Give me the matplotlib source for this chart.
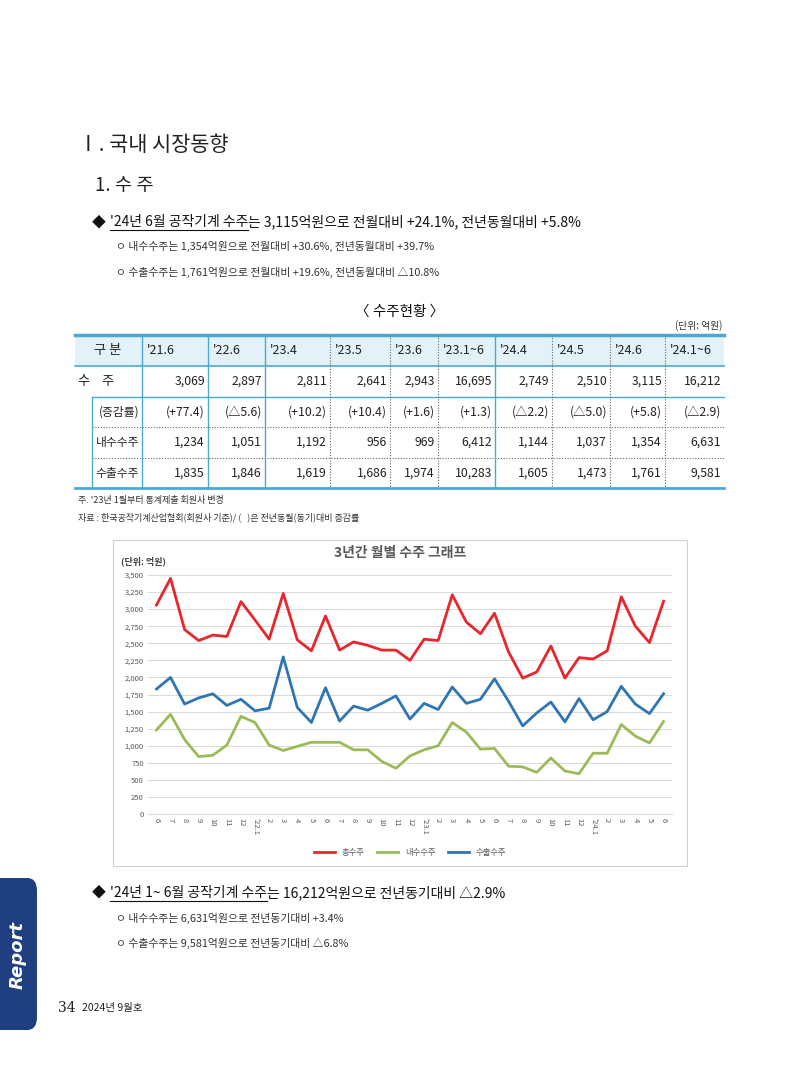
import matplotlib
matplotlib.use("Agg")
import matplotlib.pyplot as plt
from matplotlib import font_manager
from matplotlib.patches import Rectangle, FancyBboxPatch
from matplotlib.lines import Line2D

names = sorted({f.name for f in font_manager.fontManager.ttflist if "CJK" in f.name})
plt.rcParams["font.family"] = names + ["DejaVu Sans"] if names else ["DejaVu Sans"]

W, H = 800, 1066

# table data
col_heads = ["'21.6", "'22.6", "'23.4", "'23.5", "'23.6", "'23.1~6", "'24.4", "'24.5", "'24.6", "'24.1~6"]
row_total = ["3,069", "2,897", "2,811", "2,641", "2,943", "16,695", "2,749", "2,510", "3,115", "16,212"]
row_rate = ["(+77.4)", "(△5.6)", "(+10.2)", "(+10.4)", "(+1.6)", "(+1.3)", "(△2.2)", "(△5.0)", "(+5.8)", "(△2.9)"]
row_dom = ["1,234", "1,051", "1,192", "956", "969", "6,412", "1,144", "1,037", "1,354", "6,631"]
row_exp = ["1,835", "1,846", "1,619", "1,686", "1,974", "10,283", "1,605", "1,473", "1,761", "9,581"]

# chart data (monthly, '21.6 ~ '24.6)
months = ["6", "7", "8", "9", "10", "11", "12",
          "'22.1", "2", "3", "4", "5", "6", "7", "8", "9", "10", "11", "12",
          "'23.1", "2", "3", "4", "5", "6", "7", "8", "9", "10", "11", "12",
          "'24.1", "2", "3", "4", "5", "6"]
total = [3060, 3450, 2700, 2540, 2620, 2600, 3110,
         2840, 2560, 3230, 2550, 2390, 2900, 2400, 2520, 2470, 2400, 2400, 2250,
         2560, 2540, 3210, 2810, 2640, 2940, 2370, 1990, 2080, 2460, 1990, 2290,
         2270, 2390, 3180, 2750, 2510, 3115]
domestic = [1230, 1460, 1090, 840, 860, 1010, 1430,
            1340, 1010, 930, 990, 1050, 1050, 1050, 940, 940, 770, 670, 850,
            940, 1000, 1340, 1200, 950, 960, 700, 690, 610, 820, 630, 590,
            890, 890, 1310, 1140, 1040, 1354]
export = [1830, 2000, 1610, 1700, 1760, 1590, 1680,
          1510, 1550, 2300, 1560, 1340, 1850, 1360, 1580, 1520, 1620, 1730, 1390,
          1620, 1530, 1860, 1620, 1680, 1980, 1650, 1290, 1480, 1640, 1350, 1690,
          1380, 1500, 1870, 1610, 1470, 1761]

fig = plt.figure(figsize=(8, 10.66), dpi=100)
renderer = fig.canvas.get_renderer()


def fx(x):
    return x / W


def fy(y):
    return 1 - y / H


def txt(x, y, s, size=10, **kw):
    return fig.text(fx(x), fy(y), s, fontsize=size, va="center", **kw)


def hline(x0, x1, y, **kw):
    fig.add_artist(Line2D([fx(x0), fx(x1)], [fy(y), fy(y)], **kw))


def vline(x, y0, y1, **kw):
    fig.add_artist(Line2D([fx(x), fx(x)], [fy(y0), fy(y1)], **kw))


def underlined(x, y, head, rest, size):
    # underlined lead phrase followed by plain text
    t = txt(x, y, head, size, color="#111")
    x_end = t.get_window_extent(renderer).x1
    hline(x, x_end, y + 8, color="#111", lw=0.8)
    txt(x_end, y, rest, size, color="#111")


# headings
txt(78, 145, "Ⅰ. 국내 시장동향", 15, color="#222")
txt(95, 186, "1. 수 주", 13.5, color="#222")
txt(92, 222, "◆", 10, color="#111")
underlined(110, 222, "'24년 6월 공작기계 수주", "는 3,115억원으로 전월대비 +24.1%, 전년동월대비 +5.8%", 10)
txt(116, 246, "ㅇ 내수수주는 1,354억원으로 전월대비 +30.6%, 전년동월대비 +39.7%", 7.8, color="#333")
txt(116, 272, "ㅇ 수출수주는 1,761억원으로 전월대비 +19.6%, 전년동월대비 △10.8%", 7.8, color="#333")
txt(400, 312, "〈 수주현황 〉", 10.5, ha="center", color="#111")
txt(722, 326, "(단위: 억원)", 7, ha="right", color="#333")

# table
x_left, x_right = 75, 724
col_lines = [142, 208, 265, 330, 390, 438, 495, 552, 610, 665]
row_lines = [335, 366, 397, 427, 458, 488]
blue = "#4ba9cf"
fig.add_artist(Rectangle((fx(x_left), fy(row_lines[1])), fx(x_right) - fx(x_left),
                         fy(row_lines[0]) - fy(row_lines[1]), facecolor="#e3f1f8",
                         edgecolor="none"))
hline(x_left, x_right, row_lines[0], color=blue, lw=2.5)
hline(x_left, x_right, row_lines[1], color=blue, lw=1.2)
hline(x_left, x_right, row_lines[-1], color=blue, lw=2)
hline(92, x_right, row_lines[2], color=blue, lw=1)
for r in row_lines[3:5]:
    hline(92, x_right, r, color="#666", lw=0.8, ls=(0, (1, 1.5)))
vline(92, row_lines[2], row_lines[-1], color=blue, lw=1)
for i, c in enumerate(col_lines):
    solid = i in (0, 1, 2, 6)
    vline(c, row_lines[0], row_lines[-1], color=blue if solid else "#666",
          lw=1 if solid else 0.8, ls="-" if solid else (0, (1, 1.5)))

mid = [(row_lines[i] + row_lines[i + 1]) / 2 for i in range(5)]
txt(108, mid[0], "구 분", 9.5, ha="center", color="#222")
txt(78, mid[1], "수    주", 9.5, color="#222")
txt(139, mid[2], "(증감률)", 8.5, ha="right", color="#222")
txt(139, mid[3], "내수수주", 8.5, ha="right", color="#222")
txt(139, mid[4], "수출수주", 8.5, ha="right", color="#222")
rights = col_lines[1:] + [x_right]
for j in range(10):
    txt(col_lines[j] + 5, mid[0], col_heads[j], 9, color="#222")
    for k, row in enumerate([row_total, row_rate, row_dom, row_exp]):
        txt(rights[j] - 3, mid[k + 1], row[j], 8.8, ha="right", color="#222")

txt(78, 500, "주. '23년 1월부터 통계제출 회원사 변경", 6.5, color="#333")
txt(78, 517, "자료 : 한국공작기계산업협회(회원사 기준)/ (   )은 전년동월(동기)대비 증감률", 6.5, color="#333")

# chart frame
frame = Rectangle((fx(113), fy(866)), fx(687) - fx(113), fy(540) - fy(866),
                  facecolor="none", edgecolor="#d0d0d0", lw=0.8)
fig.add_artist(frame)
fig.text(fx(400), fy(553), "3년간 월별 수주 그래프", fontsize=10, fontweight="bold",
         color="#595959", ha="center", va="center")
fig.text(fx(121), fy(561), "(단위: 억원)", fontsize=6.5, fontweight="bold",
         color="#404040", va="center")

ax = fig.add_axes([fx(148), fy(814), fx(672) - fx(148), fy(575) - fy(814)])
ax.set_zorder(2)
x = list(range(len(months)))
ax.plot(x, total, color="#e8262b", lw=2, label="총수주")
ax.plot(x, domestic, color="#9bbb59", lw=2, label="내수수주")
ax.plot(x, export, color="#2e75b6", lw=2, label="수출수주")
ax.set_ylim(0, 3500)
ax.set_xlim(-0.6, len(months) - 0.4)
ax.set_yticks(range(0, 3501, 250))
ax.set_yticklabels([f"{v:,}" for v in range(0, 3501, 250)], fontsize=5.5, color="#595959")
ax.set_xticks(x)
ax.set_xticklabels(months, rotation=-90, fontsize=5.5, color="#595959")
ax.grid(axis="y", color="#d9d9d9", lw=0.7)
ax.set_axisbelow(True)
for s in ax.spines.values():
    s.set_visible(False)
ax.spines["bottom"].set_visible(True)
ax.spines["bottom"].set_color("#d9d9d9")
ax.tick_params(length=0, pad=3)
ax.legend(loc="center", bbox_to_anchor=(0.5, -0.16), ncol=3, frameon=False,
          fontsize=6, handlelength=2.5, columnspacing=1.5, labelcolor="#595959")

# lower text
txt(92, 893, "◆", 10, color="#111")
underlined(110, 893, "'24년 1~ 6월 공작기계 수주", "는 16,212억원으로 전년동기대비 △2.9%", 10)
txt(116, 918, "ㅇ 내수수주는 6,631억원으로 전년동기대비 +3.4%", 7.8, color="#333")
txt(116, 943, "ㅇ 수출수주는 9,581억원으로 전년동기대비 △6.8%", 7.8, color="#333")

# side tab and footer
fig.add_artist(FancyBboxPatch((fx(-20), fy(1030)), fx(57), fy(878) - fy(1030),
                              boxstyle="round,pad=0,rounding_size=0.012",
                              facecolor="#1f3f80", edgecolor="none"))
fig.text(fx(18), fy(955), "Report", rotation=90, fontsize=13, fontstyle="italic",
         fontweight="bold", color="white", ha="center", va="center", family="DejaVu Sans")
txt(58, 1008, "34", 10, color="#222", family="DejaVu Serif")
txt(82, 1008, "2024년 9월호", 7.5, color="#222")

fig.savefig("out.png", dpi=100, facecolor="white")
